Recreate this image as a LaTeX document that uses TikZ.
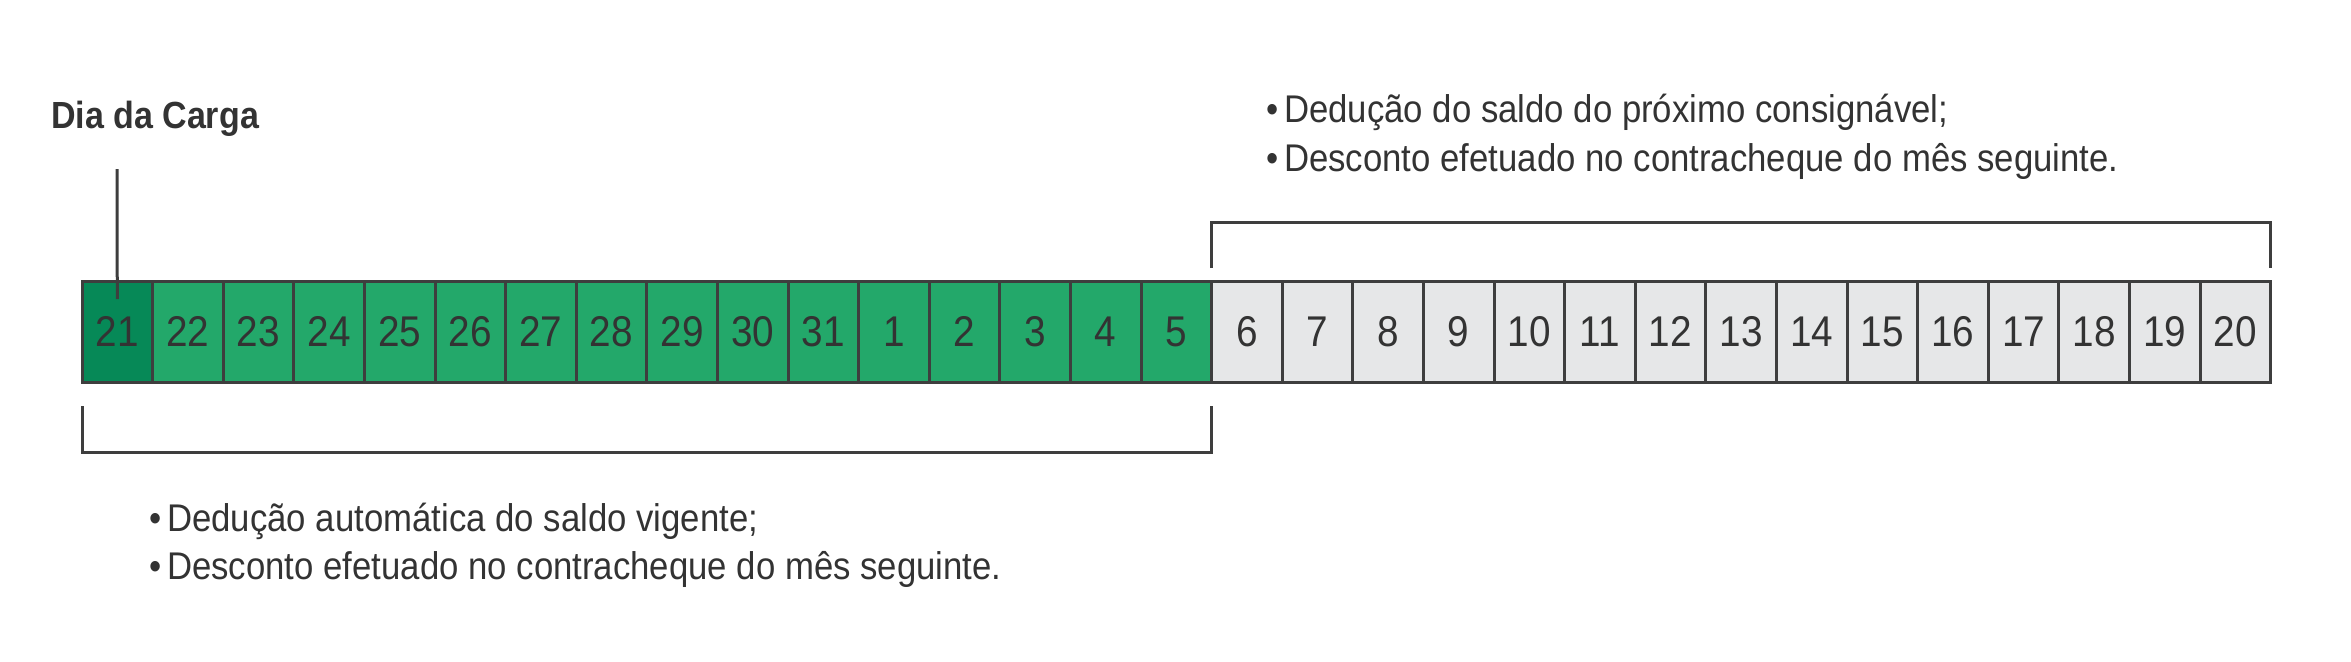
\documentclass[tikz,border=0pt]{standalone}
\usepackage{fontspec}
\setmainfont{Liberation Sans}[FakeStretch=0.9]
\usetikzlibrary{calc}
\definecolor{gA}{RGB}{35,168,106}
\definecolor{gD}{RGB}{6,137,87}
\definecolor{gL}{RGB}{230,231,232}
\definecolor{ln}{RGB}{62,62,62}
\definecolor{tx}{RGB}{51,51,51}
\tikzset{
  cell/.style={draw=ln, line width=1.5pt, minimum width=35.3pt, minimum height=50.5pt, inner sep=0pt, outer sep=0pt, text=tx, font=\fontsize{21.5}{25}\selectfont},
  txt/.style={anchor=base west, inner sep=0pt, outer sep=0pt, text=tx, font=\fontsize{19.3}{23}\selectfont},
  ttl/.style={anchor=base west, inner sep=0pt, outer sep=0pt, text=tx, font=\fontsize{18.9}{23}\selectfont\bfseries},
  br/.style={draw=ln, line width=1.5pt}
}
\begin{document}
\begin{tikzpicture}[x=0.5pt,y=-0.5pt]
\useasboundingbox (0,0) rectangle (2351,661);
\foreach \d [count=\i] in {21,22,23,24,25,26,27,28,29,30,31,1,2,3,4,5,6,7,8,9,10,11,12,13,14,15,16,17,18,19,20}{
  \pgfmathsetmacro{\cx}{82+70.6*(\i-0.5)}
  \ifnum\i=1 \def\fc{gD}\else\ifnum\i<17 \def\fc{gA}\else\def\fc{gL}\fi\fi
  \node[cell, fill=\fc] (c\i) at (\cx,331.5) {\d};
}
\node[ttl] (title) at (51,128) {Dia da Carga};
\coordinate (dl) at (117,169);
\draw[br] (dl) -- ([yshift=-9pt]c1.north);
\draw[br] ([yshift=6.5pt]c17.north west) -- ++(0,-46) -| ([yshift=6.5pt]c31.north east);
\draw[br] ([yshift=-12pt]c1.south west) -- ++(0,46) -| ([yshift=-12pt]c16.south east);
\node[txt] (t1) at (1266,122) {•\hspace{3pt}Dedução do saldo do próximo consignável;};
\node[txt] (t2) at (1266,171) {•\hspace{3pt}Desconto efetuado no contracheque do mês seguinte.};
\node[txt] (b1) at (149,531) {•\hspace{3pt}Dedução automática do saldo vigente;};
\node[txt] (b2) at (149,579) {•\hspace{3pt}Desconto efetuado no contracheque do mês seguinte.};
\end{tikzpicture}
\end{document}
